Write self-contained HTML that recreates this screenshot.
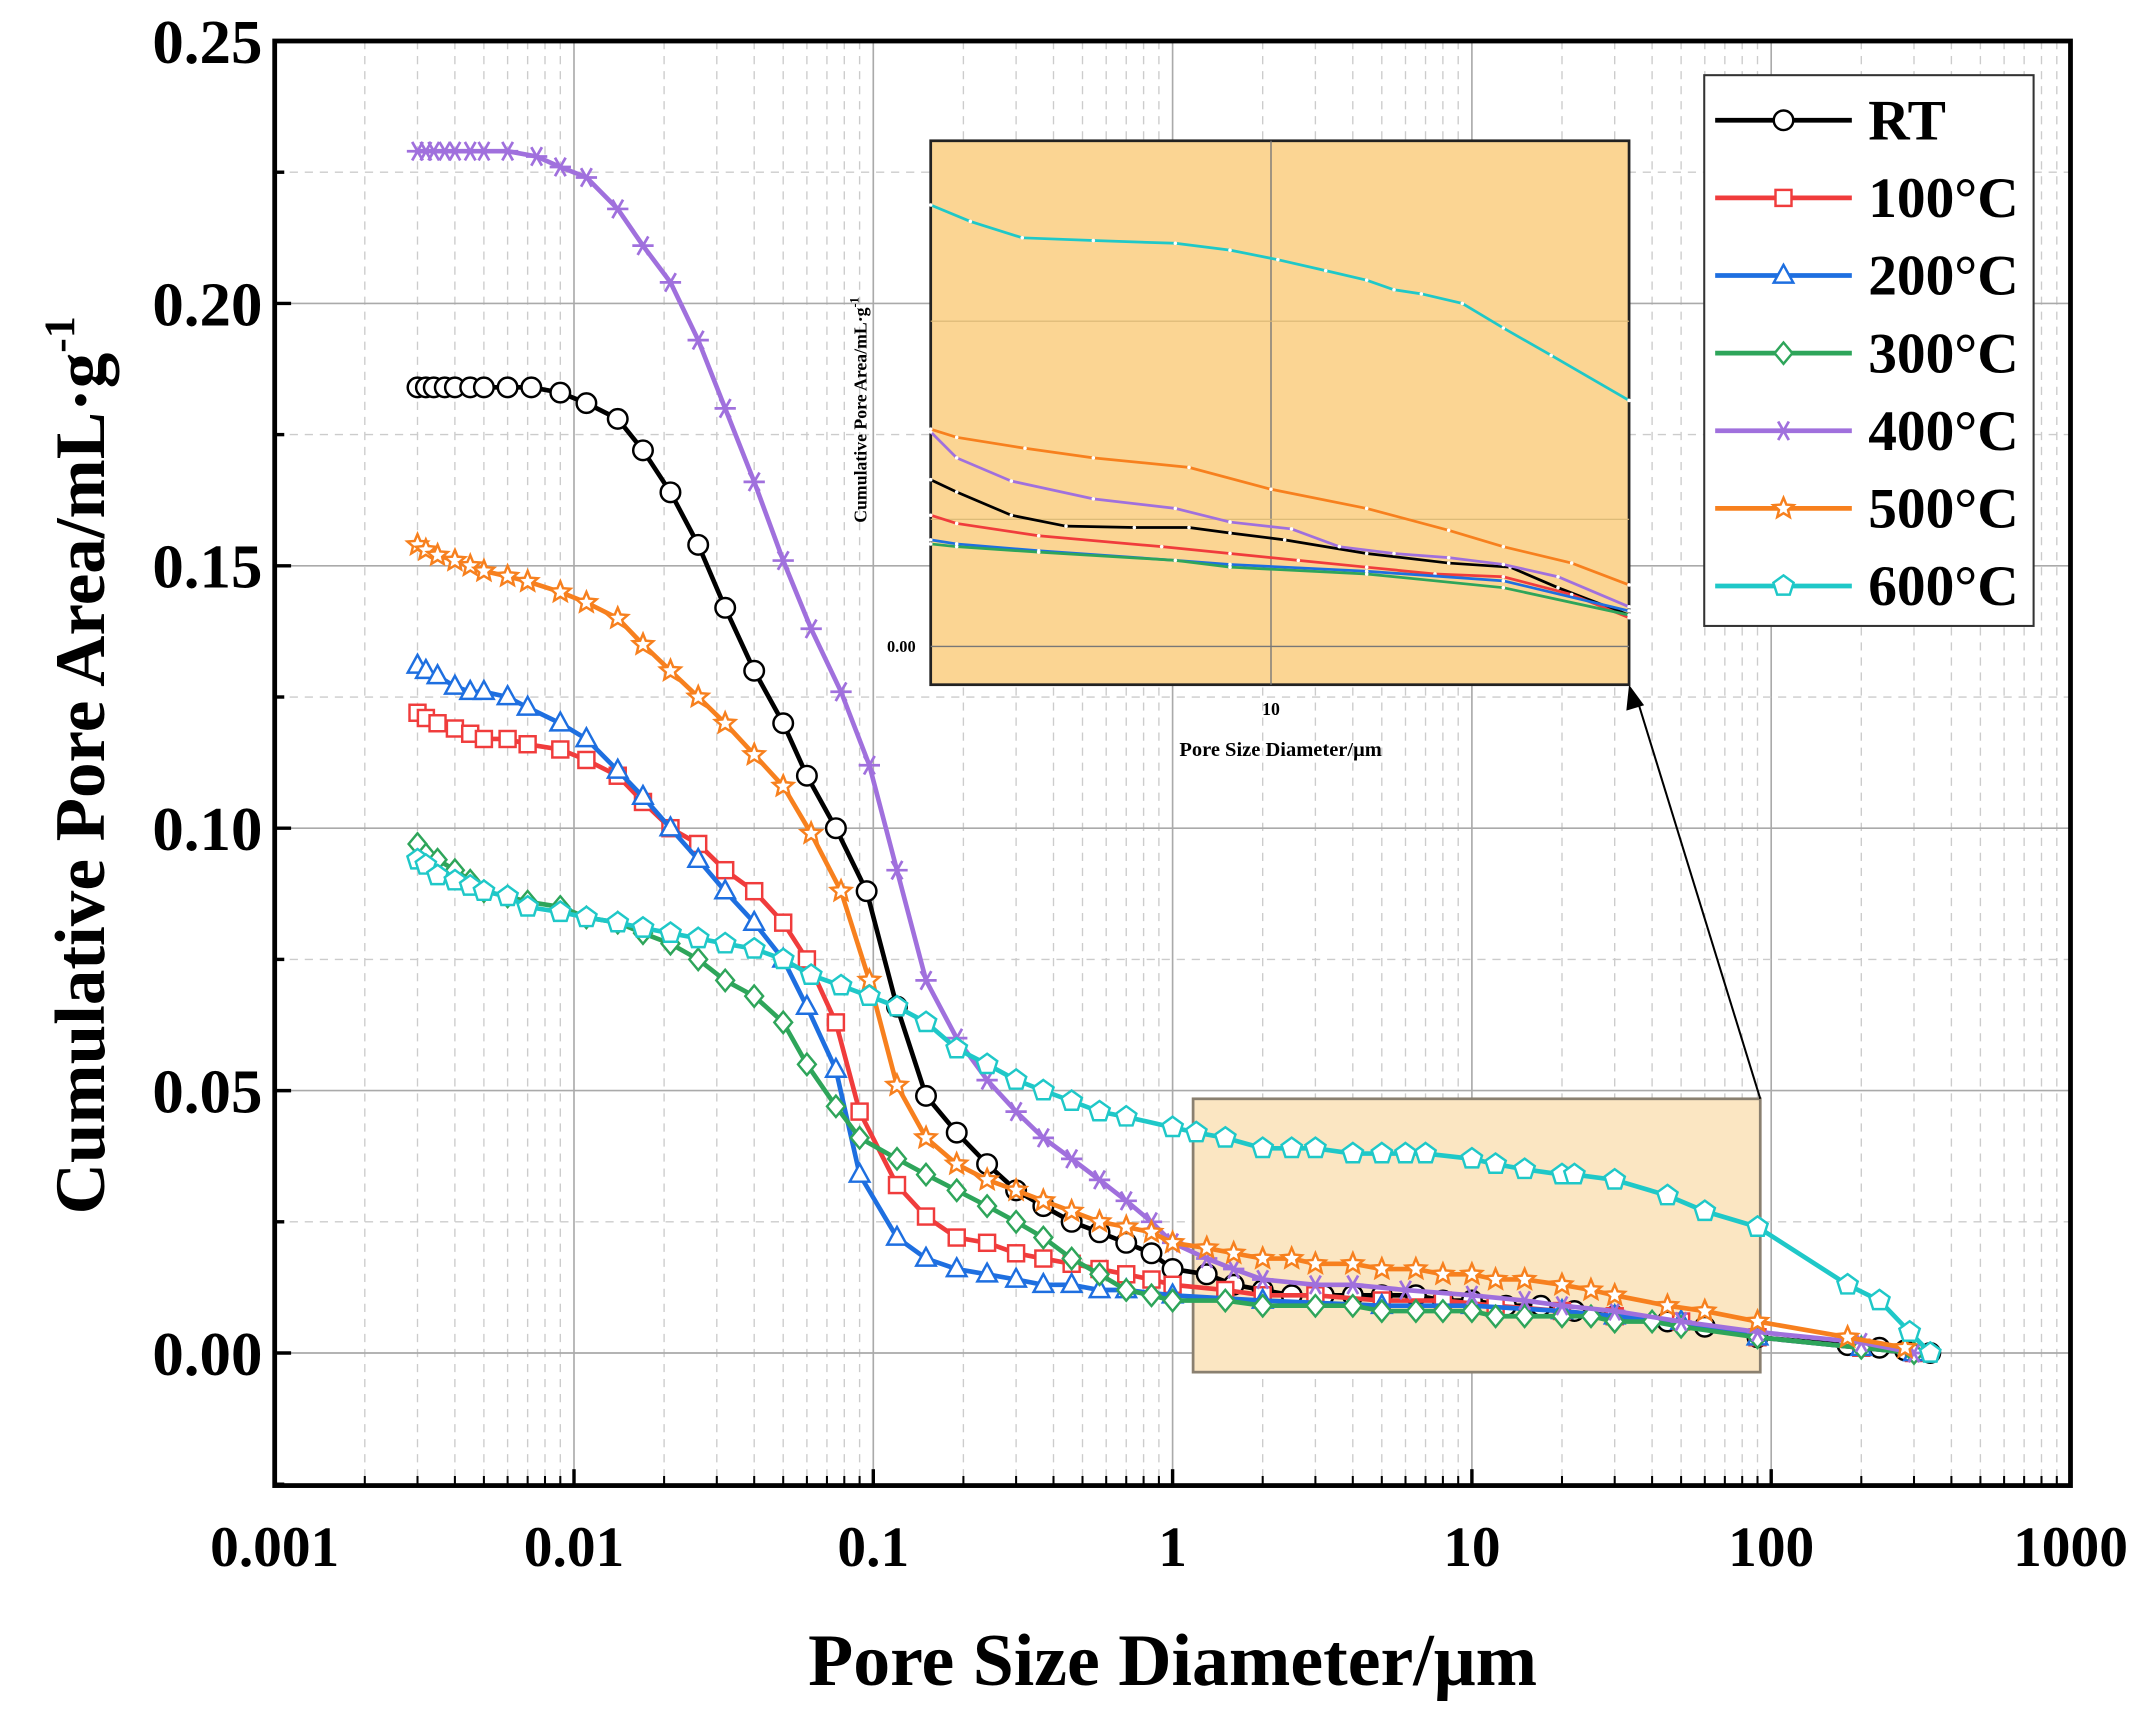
<!DOCTYPE html>
<html><head><meta charset="utf-8"><style>
html,body{margin:0;padding:0;background:#fff;}
svg{display:block;}
text{font-family:"Liberation Serif",serif;font-weight:bold;fill:#000;}
</style></head><body>
<svg id="s" width="2132" height="1716" viewBox="0 0 1560 1255.6" xmlns="http://www.w3.org/2000/svg">
<rect x="0" y="0" width="1560" height="1256" fill="#fff"/>
<g id="grid"></g>
<rect x="873" y="804" width="415" height="200" fill="#FBE6C2" stroke="#8a8070" stroke-width="2"/>
<g id="series"></g>
<rect x="201" y="30" width="1314" height="1057" fill="none" stroke="#000" stroke-width="3.5"/>
<g id="ticks"></g>
<g font-size="46" text-anchor="end">
<text x="192" y="46">0.25</text><text x="192" y="238">0.20</text><text x="192" y="430">0.15</text>
<text x="192" y="622">0.10</text><text x="192" y="814">0.05</text><text x="192" y="1006">0.00</text>
</g>
<g font-size="42" text-anchor="middle">
<text x="201" y="1146">0.001</text><text x="420" y="1146">0.01</text><text x="639" y="1146">0.1</text>
<text x="858" y="1146">1</text><text x="1077" y="1146">10</text><text x="1296" y="1146">100</text><text x="1515" y="1146">1000</text>
</g>
<text x="858" y="1233" font-size="54" text-anchor="middle">Pore Size Diameter/μm</text>
<text transform="translate(76,560) rotate(-90)" font-size="52" text-anchor="middle">Cumulative Pore Area/mL·g<tspan dy="-22" font-size="32">-1</tspan></text>
<line x1="1288" y1="804" x2="1198" y2="512" stroke="#000" stroke-width="1.5"/>
<polygon points="1192,501 1190,520 1203,516" fill="#000"/>
<rect x="681" y="103" width="511" height="398" fill="#FBD593" stroke="#222" stroke-width="2"/>
<line x1="930" y1="103" x2="930" y2="501" stroke="#777" stroke-width="1"/>
<line x1="681" y1="473" x2="1192" y2="473" stroke="#777" stroke-width="1"/>
<line x1="681" y1="235" x2="1192" y2="235" stroke="#d9b775" stroke-width="0.8"/>
<line x1="681" y1="380" x2="1192" y2="380" stroke="#d9b775" stroke-width="0.8"/>
<g id="inset"></g>
<text x="670" y="477" font-size="12" text-anchor="end">0.00</text>
<text x="930" y="523" font-size="13" text-anchor="middle">10</text>
<text x="937" y="553" font-size="15" text-anchor="middle">Pore Size Diameter/μm</text>
<text transform="translate(634,300) rotate(-90)" font-size="13" text-anchor="middle">Cumulative Pore Area/mL·g<tspan dy="-6" font-size="9">-1</tspan></text>
<rect x="1247" y="55" width="241" height="403" fill="#fff" stroke="#333" stroke-width="1.5"/>
<g id="legend"></g>
</svg>
<script>
const NS="http://www.w3.org/2000/svg";
function el(t,a,p){const e=document.createElementNS(NS,t);for(const k in a)e.setAttribute(k,a[k]);p.appendChild(e);return e;}
const X=v=>201+(Math.log10(v)+3)*219, Y=v=>990-v*3840;
const grid=document.getElementById('grid'),ticks=document.getElementById('ticks');
for(let d=-3;d<3;d++){for(let m=2;m<10;m++){const x=X(m*Math.pow(10,d));
 el('line',{x1:x,y1:30,x2:x,y2:1087,stroke:'#ccc','stroke-width':1,'stroke-dasharray':'6,5'},grid);
 el('line',{x1:x,y1:1087,x2:x,y2:1080,stroke:'#000','stroke-width':1.5},ticks);}}
for(let d=-2;d<3;d++){const x=X(Math.pow(10,d));el('line',{x1:x,y1:30,x2:x,y2:1087,stroke:'#aaa','stroke-width':1.2},grid);}
for(let i=0;i<11;i++){const v=-0.025+i*0.025,y=Y(v);if(y<31||y>1086)continue;
 const major=Math.abs(Math.round(v*1000)%50)==0;
 el('line',{x1:201,y1:y,x2:1515,y2:y,stroke:major?'#aaa':'#ccc','stroke-width':major?1.2:1,'stroke-dasharray':major?'':'6,5'},grid);
 el('line',{x1:201,y1:y,x2:major?213:208,y2:y,stroke:'#000','stroke-width':2.5},ticks);}
for(let d=-2;d<3;d++){const x=X(Math.pow(10,d));el('line',{x1:x,y1:1087,x2:x,y2:1075,stroke:'#000','stroke-width':2.5},ticks);}
function parse(s){return s.trim().split(/\s*,\s*/).map(p=>p.trim().split(/\s+/).map(Number));}
const S=[
{c:'#000',m:'circle',d:parse(".003 .184,.0032 .184,.0034 .184,.0037 .184,.004 .184,.0045 .184,.005 .184,.006 .184,.0072 .184,.009 .183,.011 .181,.014 .178,.017 .172,.021 .164,.026 .154,.032 .142,.04 .130,.05 .120,.06 .110,.075 .100,.095 .088,.12 .066,.15 .049,.19 .042,.24 .036,.3 .031,.37 .028,.46 .025,.57 .023,.7 .021,.85 .019,1.0 .016,1.3 .015,1.6 .013,2 .012,2.5 .011,3.2 .011,4 .011,5 .011,6.5 .011,8 .010,10 .010,13 .009,17 .009,22 .008,30 .007,45 .006,60 .005,90 .003,180 .0015,230 .001,280 .0005,340 0")},
{c:'#F03C3C',m:'square',d:parse(".003 .122,.0032 .121,.0035 .120,.004 .119,.0045 .118,.005 .117,.006 .117,.007 .116,.009 .115,.011 .113,.014 .110,.017 .105,.021 .100,.026 .097,.032 .092,.04 .088,.05 .082,.06 .075,.075 .063,.09 .046,.12 .032,.15 .026,.19 .022,.24 .021,.3 .019,.37 .018,.46 .017,.57 .016,.7 .015,.85 .014,1 .013,1.5 .012,2 .011,3 .011,5 .010,8 .010,12 .009,20 .008,30 .007,50 .006,90 .003,200 .001,300 0")},
{c:'#1E6FE0',m:'tri',d:parse(".003 .131,.0032 .130,.0035 .129,.004 .127,.0045 .126,.005 .126,.006 .125,.007 .123,.009 .120,.011 .117,.014 .111,.017 .106,.021 .100,.026 .094,.032 .088,.04 .082,.05 .075,.06 .066,.075 .054,.09 .034,.12 .022,.15 .018,.19 .016,.24 .015,.3 .014,.37 .013,.46 .013,.57 .012,.7 .012,1 .011,2 .010,5 .009,10 .009,20 .008,30 .007,50 .006,90 .003,200 .001,300 0")},
{c:'#2EA55A',m:'diamond',d:parse(".003 .097,.0032 .095,.0035 .094,.004 .092,.0045 .090,.005 .088,.006 .087,.007 .086,.009 .085,.011 .083,.014 .082,.017 .080,.021 .078,.026 .075,.032 .071,.04 .068,.05 .063,.06 .055,.075 .047,.09 .041,.12 .037,.15 .034,.19 .031,.24 .028,.3 .025,.37 .022,.46 .018,.57 .015,.7 .012,.85 .011,1 .010,1.5 .010,2 .009,3 .009,4 .009,5 .008,6.5 .008,8 .008,10 .008,12 .007,15 .007,20 .007,25 .007,30 .006,40 .006,50 .005,90 .003,200 .001,300 0")},
{c:'#A070DD',m:'star',d:parse(".003 .229,.0032 .229,.0034 .229,.0037 .229,.004 .229,.0045 .229,.005 .229,.006 .229,.0075 .228,.009 .226,.011 .224,.014 .218,.017 .211,.021 .204,.026 .193,.032 .180,.04 .166,.05 .151,.062 .138,.078 .126,.097 .112,.12 .092,.15 .071,.19 .060,.24 .052,.3 .046,.37 .041,.46 .037,.57 .033,.7 .029,.85 .025,1 .021,1.3 .018,1.6 .016,2 .014,3 .013,4 .013,6 .012,10 .011,15 .010,20 .009,30 .008,50 .006,90 .004,200 .002,300 0")},
{c:'#F7801E',m:'pstar',d:parse(".003 .154,.0032 .153,.0035 .152,.004 .151,.0045 .150,.005 .149,.006 .148,.007 .147,.009 .145,.011 .143,.014 .140,.017 .135,.021 .130,.026 .125,.032 .120,.04 .114,.05 .108,.062 .099,.078 .088,.097 .071,.12 .051,.15 .041,.19 .036,.24 .033,.3 .031,.37 .029,.46 .027,.57 .025,.7 .024,.85 .023,1 .021,1.3 .020,1.6 .019,2 .018,2.5 .018,3 .017,4 .017,5 .016,6.5 .016,8 .015,10 .015,12 .014,15 .014,20 .013,25 .012,30 .011,45 .009,60 .008,90 .006,180 .003,280 .001")},
{c:'#1FC8C8',m:'pent',d:parse(".003 .094,.0032 .093,.0035 .091,.004 .090,.0045 .089,.005 .088,.006 .087,.007 .085,.009 .084,.011 .083,.014 .082,.017 .081,.021 .080,.026 .079,.032 .078,.04 .077,.05 .075,.062 .072,.078 .070,.097 .068,.12 .066,.15 .063,.19 .058,.24 .055,.3 .052,.37 .050,.46 .048,.57 .046,.7 .045,1 .043,1.2 .042,1.5 .041,2 .039,2.5 .039,3 .039,4 .038,5 .038,6 .038,7 .038,10 .037,12 .036,15 .035,20 .034,22 .034,30 .033,45 .030,60 .027,90 .024,180 .013,230 .010,290 .004,340 0")}
];
function marker(g,m,x,y,c,s){
 const st={fill:'#fff',stroke:c,'stroke-width':1.8};
 if(m=='circle')el('circle',Object.assign({cx:x,cy:y,r:s*0.55},st),g);
 else if(m=='square')el('rect',Object.assign({x:x-s*0.45,y:y-s*0.45,width:s*0.9,height:s*0.9},st),g);
 else if(m=='tri')el('polygon',Object.assign({points:`${x},${y-s*0.6} ${x-s*0.55},${y+s*0.4} ${x+s*0.55},${y+s*0.4}`},st),g);
 else if(m=='diamond')el('polygon',Object.assign({points:`${x},${y-s*0.6} ${x+s*0.5},${y} ${x},${y+s*0.6} ${x-s*0.5},${y}`},st),g);
 else if(m=='star'){const r=s*0.6;el('path',{d:`M${x-r} ${y}H${x+r}M${x-r*.5} ${y-r*.87}L${x+r*.5} ${y+r*.87}M${x+r*.5} ${y-r*.87}L${x-r*.5} ${y+r*.87}`,stroke:c,'stroke-width':2},g);}
 else{const pts=[];const R=s*0.6,r2=m=='pstar'?R*0.45:R;const k=m=='pstar'?10:5;
  for(let i=0;i<k;i++){const a=-Math.PI/2+i*2*Math.PI/k,rr=(m=='pstar'&&i%2)?r2:R;pts.push((x+rr*Math.cos(a)).toFixed(1)+','+(y+rr*Math.sin(a)).toFixed(1));}
  el('polygon',Object.assign({points:pts.join(' ')},st),g);}
}
const sg=document.getElementById('series');
S.forEach(s=>{const g=el('g',{},sg);
 el('polyline',{points:s.d.map(p=>X(p[0]).toFixed(1)+','+Y(p[1]).toFixed(1)).join(' '),fill:'none',stroke:s.c,'stroke-width':3.4},g);
 s.d.forEach(p=>marker(g,s.m,X(p[0]),Y(p[1]),s.c,13));});
const ig=document.getElementById('inset');
const I=[
['#000',"681,351 700,360 740,377 780,385 830,386 870,386 900,390 940,395 1000,405 1060,412 1105,415 1140,430 1192,450"],
['#F03C3C',"681,377 700,383 760,392 850,400 900,405 950,410 1000,415 1050,420 1100,422 1150,435 1192,452"],
['#1E6FE0',"681,395 700,398 760,403 860,410 900,413 1000,418 1100,425 1192,447"],
['#2EA55A',"681,398 700,400 760,404 860,410 900,415 1000,420 1100,430 1192,450"],
['#A070DD',"681,316 700,335 740,352 800,365 860,372 900,382 945,387 980,400 1020,405 1060,408 1100,413 1140,422 1192,444"],
['#F7801E',"681,314 700,320 750,328 800,335 870,342 930,358 1000,372 1060,388 1100,400 1150,412 1192,428"],
['#1FC8C8',"681,150 710,162 748,174 800,176 860,178 900,183 935,190 970,198 1000,205 1020,212 1040,215 1070,222 1100,240 1135,260 1192,293"]];
I.forEach(s=>{el('polyline',{points:s[1],fill:'none',stroke:s[0],'stroke-width':2},ig);
 s[1].split(' ').forEach(p=>{const [x,y]=p.split(',').map(Number);el('circle',{cx:x,cy:y,r:1.3,fill:'#fff'},ig);});});
const lg=document.getElementById('legend');
const names=['RT','100°C','200°C','300°C','400°C','500°C','600°C'];
S.forEach((s,i)=>{const y=88+i*56.8;
 el('line',{x1:1255,y1:y,x2:1355,y2:y,stroke:s.c,'stroke-width':3.5},lg);
 marker(lg,s.m,1305,y,s.c,13);
 const t=el('text',{x:1367,y:y+14,'font-size':42},lg);t.textContent=names[i];});
</script>
</body></html>
